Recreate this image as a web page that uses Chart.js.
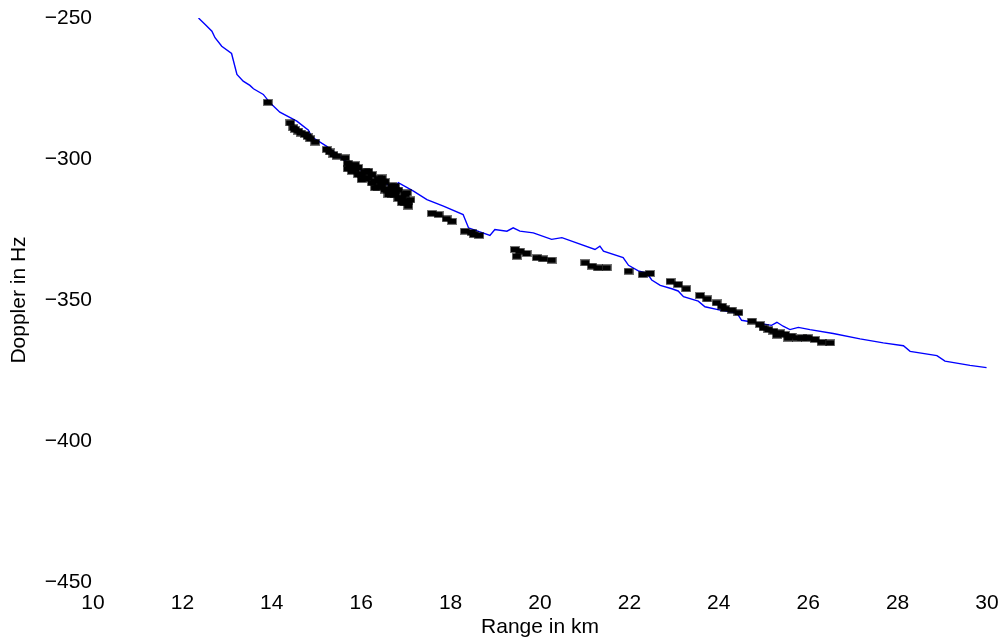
<!DOCTYPE html>
<html>
<head>
<meta charset="utf-8">
<script src="https://cdn.jsdelivr.net/npm/chart.js@4"></script>
<style>
  html, body { margin: 0; padding: 0; background: #fff; }
  #wrap { width: 1000px; height: 640px; }
</style>
</head>
<body>
<div id="wrap"><canvas id="dopplerChart" width="1000" height="640"></canvas></div>
<script>
// predicted doppler curve (blue line)
const curveRange = [12.36, 12.51, 12.66, 12.73, 12.88, 13.10, 13.22, 13.36, 13.51, 13.59, 13.81, 13.96,
  14.18, 14.56, 14.82, 14.89, 15.23, 15.60, 15.90, 16.20, 16.42, 16.64, 16.76, 16.83, 17.17, 17.47,
  17.84, 18.28, 18.40, 18.88, 18.99, 19.26, 19.40, 19.55, 19.85, 20.26, 20.49, 21.23, 21.34, 21.42,
  21.86, 21.98, 22.20, 22.39, 22.50, 22.69, 22.95, 23.09, 23.21, 23.54, 23.69, 24.03, 24.40, 24.51,
  24.92, 25.18, 25.30, 25.44, 25.59, 25.78, 26.04, 26.56, 27.16, 27.68, 28.13, 28.28, 28.88, 29.06,
  29.62, 29.99];
const curveDoppler = [-250.0, -252.3, -254.7, -257.0, -260.0, -262.6, -270.0, -272.4, -273.9, -275.1, -277.1, -280.1,
  -283.4, -286.6, -289.8, -292.1, -295.5, -300.2, -303.1, -305.5, -307.3, -309.6, -310.2, -308.4, -311.4, -314.4,
  -316.7, -319.7, -324.4, -327.1, -325.0, -325.6, -324.4, -325.6, -326.2, -328.5, -327.9, -332.1, -330.9, -332.7,
  -335.0, -337.7, -339.7, -340.5, -342.9, -344.8, -346.0, -346.8, -348.8, -350.4, -352.4, -353.6, -354.5, -357.2,
  -358.3, -359.0, -357.9, -359.3, -360.5, -359.7, -360.5, -361.9, -363.8, -365.2, -366.2, -368.2, -369.7, -371.7,
  -373.2, -374.0];

// measured detections (black marks)
const detRange = [13.91, 14.41, 14.48, 14.52, 14.59, 14.65, 14.74, 14.80, 14.86, 14.97, 15.23, 15.30, 15.38, 15.45,
  15.64, 15.70, 15.70, 15.75, 15.79, 15.86, 15.86, 15.93, 15.93, 16.01, 16.01, 16.08, 16.08,
  16.16, 16.16, 16.24, 16.24, 16.31, 16.31, 16.38, 16.38, 16.46, 16.46, 16.46, 16.53, 16.53,
  16.61, 16.61, 16.68, 16.68, 16.76, 16.76, 16.76, 16.83, 16.83, 16.91, 16.91, 16.98, 16.98,
  17.02, 17.05, 17.05, 17.10,
  17.58, 17.73, 17.91, 18.03, 18.32, 18.47, 18.52, 18.64, 19.44, 19.48, 19.55, 19.70, 19.93, 20.07,
  20.26, 21.01, 21.16, 21.30, 21.49, 21.98, 22.30, 22.46, 22.92, 23.09, 23.27, 23.58, 23.74, 23.95,
  24.07, 24.14, 24.29, 24.44, 24.74, 24.92, 25.00, 25.11, 25.22, 25.30, 25.37, 25.48, 25.55, 25.63,
  25.75, 25.86, 25.95, 26.00, 26.15, 26.30, 26.49];
const detDoppler = [-279.9, -287.2, -288.9, -289.5, -290.1, -290.8, -291.3, -292.0, -292.8, -294.0, -296.6, -297.5, -298.4, -299.0,
  -299.6, -301.5, -303.5, -302.6, -304.4, -302.0, -303.7, -303.0, -305.5, -305.5, -307.3, -304.5, -307.0,
  -304.3, -306.7, -305.5, -308.5, -307.9, -310.2, -307.0, -310.0, -306.7, -309.6, -308.2, -308.0, -311.0,
  -310.8, -312.6, -309.5, -312.5, -309.6, -312.6, -311.0, -311.0, -314.0, -313.8, -315.5, -312.5, -315.5,
  -312.0, -315.0, -316.7, -314.5,
  -319.3, -319.7, -321.2, -322.1, -325.6, -326.0, -326.8, -327.1, -332.1, -334.5, -332.7, -333.5, -335.0, -335.4,
  -335.9, -336.8, -338.0, -338.6, -338.6, -339.8, -341.0, -340.6, -343.4, -344.5, -346.0, -348.4, -349.6, -351.0,
  -352.2, -353.1, -353.6, -354.5, -357.5, -358.7, -359.9, -360.5, -361.1, -362.5, -361.6, -362.2, -363.5, -362.8,
  -363.5, -363.4, -363.5, -363.4, -364.0, -365.0, -365.2];

const xTicks = [10, 12, 14, 16, 18, 20, 22, 24, 26, 28, 30];
const yTicks = [-450, -400, -350, -300, -250];

const toPoints = (xs, ys) => xs.map((x, i) => ({ x: x, y: ys[i] }));
const minusSign = v => String(v).replace("-", "\u2212");

// small wide block used as the detection marker
const block = document.createElement("canvas");
block.width = 10;
block.height = 7;
const bctx = block.getContext("2d");
bctx.fillStyle = "rgba(0,0,0,0.55)";
bctx.fillRect(0, 0, 10, 7);
bctx.fillStyle = "#000";
bctx.fillRect(1, 1, 8, 5);

Chart.defaults.font.family = "'Liberation Sans', Arial, sans-serif";
Chart.defaults.color = "#000";

new Chart(document.getElementById("dopplerChart"), {
  type: "scatter",
  data: {
    datasets: [
      {
        label: "Detections",
        data: toPoints(detRange, detDoppler),
        pointStyle: block,
        pointRadius: 4,
        showLine: false,
      },
      {
        label: "Predicted",
        data: toPoints(curveRange, curveDoppler),
        showLine: true,
        borderColor: "#0000ff",
        borderWidth: 1.4,
        pointRadius: 0,
        tension: 0,
      },
    ],
  },
  options: {
    responsive: false,
    animation: false,
    layout: { padding: { top: 18, right: 13, bottom: 0, left: 0 } },
    plugins: {
      legend: { display: false },
      tooltip: { enabled: false },
    },
    scales: {
      x: {
        type: "linear",
        min: 10,
        max: 30,
        afterBuildTicks: s => { s.ticks = xTicks.map(v => ({ value: v })); },
        afterFit: s => { s.height = 58; s.paddingLeft = 0; s.paddingRight = 0; },
        ticks: { font: { size: 21 }, padding: 9, maxRotation: 0 },
        grid: { display: false, drawTicks: false },
        border: { display: false },
        title: { display: true, text: "Range in km", font: { size: 21 }, padding: { top: 0, bottom: 0 } },
      },
      y: {
        type: "linear",
        min: -450,
        max: -250,
        afterBuildTicks: s => { s.ticks = yTicks.map(v => ({ value: v })); },
        afterFit: s => { s.width = 93; s.paddingTop = 0; s.paddingBottom = 0; },
        ticks: { font: { size: 21 }, padding: 1, callback: minusSign },
        grid: { display: false, drawTicks: false },
        border: { display: false },
        title: { display: true, text: "Doppler in Hz", font: { size: 21 }, padding: { top: 7, bottom: 0 } },
      },
    },
  },
});
</script>
</body>
</html>
